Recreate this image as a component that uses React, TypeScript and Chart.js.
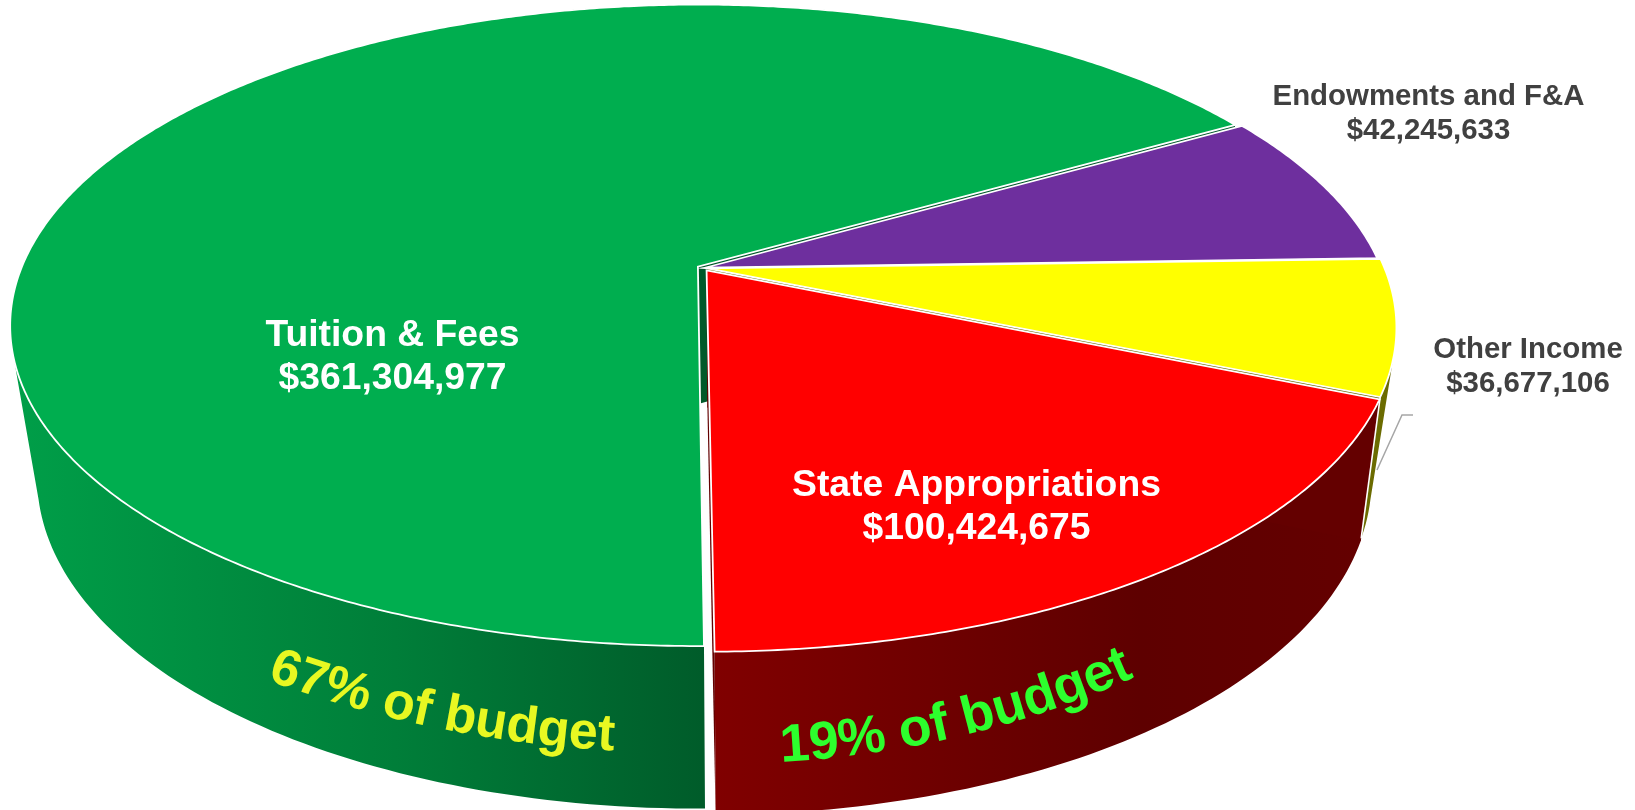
import React, { useEffect, useRef } from "react";
import { Chart, registerables } from "chart.js";

Chart.register(...registerables);

const categories = ["Tuition & Fees", "Endowments and F&A", "Other Income", "State Appropriations"];
const amounts = [361304977, 42245633, 36677106, 100424675];
const budgetNotes = ["67% of budget", "19% of budget"];

const faceColors = ["#00AE4F", "#6E2F9E", "#FFFF00", "#FF0000"];
const innerColors = ["#00592A", null, "#6B6B00", "#640000"];
const explode = [3.5, 1.2, 3, 3.8];

const TOP = { cx: 703, cy: 268, a: 310.5, b: 676.5, k: 0.183 };
const BOTTOM = { cx: 704, cy: 405, a: 316, b: 646, k: 0.2214 };
const STEP = Math.PI / 180;

type Ring = typeof TOP;
type Pt = { x: number; y: number };
const project = (r: Ring, u: number, v: number): Pt => {
  const w = 1 - r.k * v;
  return { x: r.cx + (r.b * u) / w, y: r.cy + (r.a * v) / w };
};

const money = (n: number) => "$" + n.toLocaleString("en-US");
const DARK = "#404040";
const FONT_FAMILY = '"Liberation Sans", Arial, sans-serif';

function sliceGeom(arc: any) {
  const { startAngle, endAngle, outerRadius } = arc;
  const mid = (startAngle + endAngle) / 2;
  const d = (arc.options.offset || 0) / outerRadius;
  const ou = d * Math.cos(mid);
  const ov = d * Math.sin(mid);
  const at = (ring: Ring, angle: number, t = 1) =>
    project(ring, ou + t * Math.cos(angle), ov + t * Math.sin(angle));
  return { startAngle, endAngle, at };
}

function polygon(ctx: CanvasRenderingContext2D, pts: Pt[]) {
  ctx.beginPath();
  pts.forEach((p, i) => (i ? ctx.lineTo(p.x, p.y) : ctx.moveTo(p.x, p.y)));
  ctx.closePath();
}

function wallFill(ctx: CanvasRenderingContext2D, i: number) {
  if (i === 0) {
    const g = ctx.createLinearGradient(20, 0, 703, 0);
    g.addColorStop(0, "#009E48");
    g.addColorStop(0.55, "#007E39");
    g.addColorStop(1, "#005C2A");
    return g;
  }
  if (i === 3) {
    const g = ctx.createLinearGradient(716, 0, 1370, 0);
    g.addColorStop(0, "#800000");
    g.addColorStop(0.65, "#5E0000");
    g.addColorStop(1, "#640000");
    return g;
  }
  if (i === 2) return "#6B6B00";
  return "#3A1A55";
}

function signedArea(q: Pt[]) {
  let s = 0;
  q.forEach((p, n) => {
    const r = q[(n + 1) % q.length];
    s += p.x * r.y - r.x * p.y;
  });
  return s;
}

function drawWall(ctx: CanvasRenderingContext2D, geom: any, i: number) {
  ctx.fillStyle = wallFill(ctx, i) as any;
  ctx.beginPath();
  for (let a = geom.startAngle; a < geom.endAngle; a += STEP) {
    const b = Math.min(a + STEP, geom.endAngle);
    let q: Pt[] = [geom.at(TOP, a), geom.at(TOP, b), geom.at(BOTTOM, b), geom.at(BOTTOM, a)];
    if (signedArea(q) < 0) q = q.reverse();
    q.forEach((p, n) => (n ? ctx.lineTo(p.x, p.y) : ctx.moveTo(p.x, p.y)));
    ctx.closePath();
  }
  ctx.fill("nonzero");
}

function drawInnerFaces(ctx: CanvasRenderingContext2D, geom: any, i: number) {
  const color = innerColors[i];
  if (!color) return;
  ctx.fillStyle = color;
  const apexTop = geom.at(TOP, geom.startAngle, 0);
  const apexBottom = geom.at(BOTTOM, geom.startAngle, 0);
  if (i === 0) {
    polygon(ctx, [apexTop, { x: apexBottom.x + 5, y: apexBottom.y - 2 }, geom.at(TOP, geom.startAngle, 0.37)]);
  } else {
    polygon(ctx, [apexTop, geom.at(TOP, geom.startAngle), geom.at(BOTTOM, geom.startAngle), apexBottom]);
  }
  ctx.fill();
  polygon(ctx, [apexTop, geom.at(TOP, geom.endAngle), geom.at(BOTTOM, geom.endAngle), apexBottom]);
  ctx.fill();
}

function drawWallEdge(ctx: CanvasRenderingContext2D, geom: any) {
  const a = geom.at(TOP, geom.endAngle);
  const b = geom.at(BOTTOM, geom.endAngle);
  ctx.strokeStyle = "#FFFFFF";
  ctx.lineWidth = 1.6;
  ctx.beginPath();
  ctx.moveTo(a.x, a.y);
  ctx.lineTo(b.x, b.y);
  ctx.stroke();
}

function drawTop(ctx: CanvasRenderingContext2D, geom: any, i: number) {
  const pts = [geom.at(TOP, geom.startAngle, 0)];
  for (let a = geom.startAngle; a < geom.endAngle; a += STEP / 2) pts.push(geom.at(TOP, a));
  pts.push(geom.at(TOP, geom.endAngle));
  polygon(ctx, pts);
  ctx.fillStyle = faceColors[i];
  ctx.fill();
  ctx.strokeStyle = "#FFFFFF";
  ctx.lineWidth = 1.8;
  ctx.lineJoin = "miter";
  ctx.stroke();
}

function curvedText(
  ctx: CanvasRenderingContext2D,
  text: string,
  x0: number,
  y0: number,
  fromDeg: number,
  toDeg: number,
  size: number,
  color: string
) {
  ctx.save();
  ctx.font = `bold ${size}px ${FONT_FAMILY}`;
  ctx.fillStyle = color;
  ctx.textAlign = "left";
  ctx.textBaseline = "alphabetic";
  const total = ctx.measureText(text).width;
  let run = 0;
  let x = x0;
  let y = y0;
  for (const ch of text) {
    const w = ctx.measureText(ch).width;
    const th = ((fromDeg + ((toDeg - fromDeg) * (run + w / 2)) / total) * Math.PI) / 180;
    ctx.save();
    ctx.translate(x, y);
    ctx.rotate(th);
    ctx.fillText(ch, 0, 0);
    ctx.restore();
    x += Math.cos(th) * w;
    y += Math.sin(th) * w;
    run += w;
  }
  ctx.restore();
}

function block(
  ctx: CanvasRenderingContext2D,
  lines: string[],
  cx: number,
  ys: number[],
  size: number,
  color: string
) {
  ctx.font = `bold ${size}px ${FONT_FAMILY}`;
  ctx.fillStyle = color;
  ctx.textAlign = "center";
  ctx.textBaseline = "middle";
  lines.forEach((l, i) => ctx.fillText(l, cx, ys[i]));
}

const pie3d = {
  id: "pie3d",
  beforeDatasetDraw(chart: any) {
    const ctx: CanvasRenderingContext2D = chart.ctx;
    const arcs = chart.getDatasetMeta(0).data;
    const geoms = arcs.map(sliceGeom);
    ctx.save();
    [1, 0, 2, 3].forEach((i) => {
      drawWall(ctx, geoms[i], i);
      drawInnerFaces(ctx, geoms[i], i);
    });
    drawWallEdge(ctx, geoms[3 - 1]);
    [0, 1, 2, 3].forEach((i) => drawTop(ctx, geoms[i], i));
    ctx.restore();
    return false;
  },
  afterDatasetsDraw(chart: any) {
    const ctx: CanvasRenderingContext2D = chart.ctx;
    ctx.save();
    ctx.strokeStyle = "#A6A6A6";
    ctx.lineWidth = 1.5;
    ctx.beginPath();
    ctx.moveTo(1413, 415);
    ctx.lineTo(1402, 415);
    ctx.lineTo(1377, 470);
    ctx.stroke();
    block(ctx, [categories[0], money(amounts[0])], 392.5, [336, 379], 37.3, "#FFFFFF");
    block(ctx, [categories[3], money(amounts[3])], 976.5, [486, 529], 37.3, "#FFFFFF");
    block(ctx, [categories[1], money(amounts[1])], 1428.5, [97, 131], 29.4, DARK);
    block(ctx, [categories[2], money(amounts[2])], 1528, [350, 384], 29.4, DARK);
    curvedText(ctx, budgetNotes[0], 267, 680, 20, 3, 52, "#E8F822");
    curvedText(ctx, budgetNotes[1], 781, 762, -3, -24, 53.5, "#2DFF2D");
    ctx.restore();
  },
};

export default function App() {
  const ref = useRef<HTMLCanvasElement>(null);
  useEffect(() => {
    document.body.style.margin = "0";
    document.body.style.background = "#FFFFFF";
    const chart = new Chart(ref.current as HTMLCanvasElement, {
      type: "pie",
      data: {
        labels: categories,
        datasets: [{ data: amounts, backgroundColor: faceColors, offset: explode, borderWidth: 0 }],
      },
      options: {
        animation: false,
        responsive: false,
        devicePixelRatio: 1,
        rotation: 179.5,
        layout: { padding: 0 },
        plugins: { legend: { display: false }, tooltip: { enabled: false } },
      },
      plugins: [pie3d],
    } as any);
    return () => chart.destroy();
  }, []);
  return (
    <canvas
      ref={ref}
      width={1635}
      height={810}
      style={{ position: "fixed", left: 0, top: 0, width: 1635, height: 810, display: "block" }}
    />
  );
}
